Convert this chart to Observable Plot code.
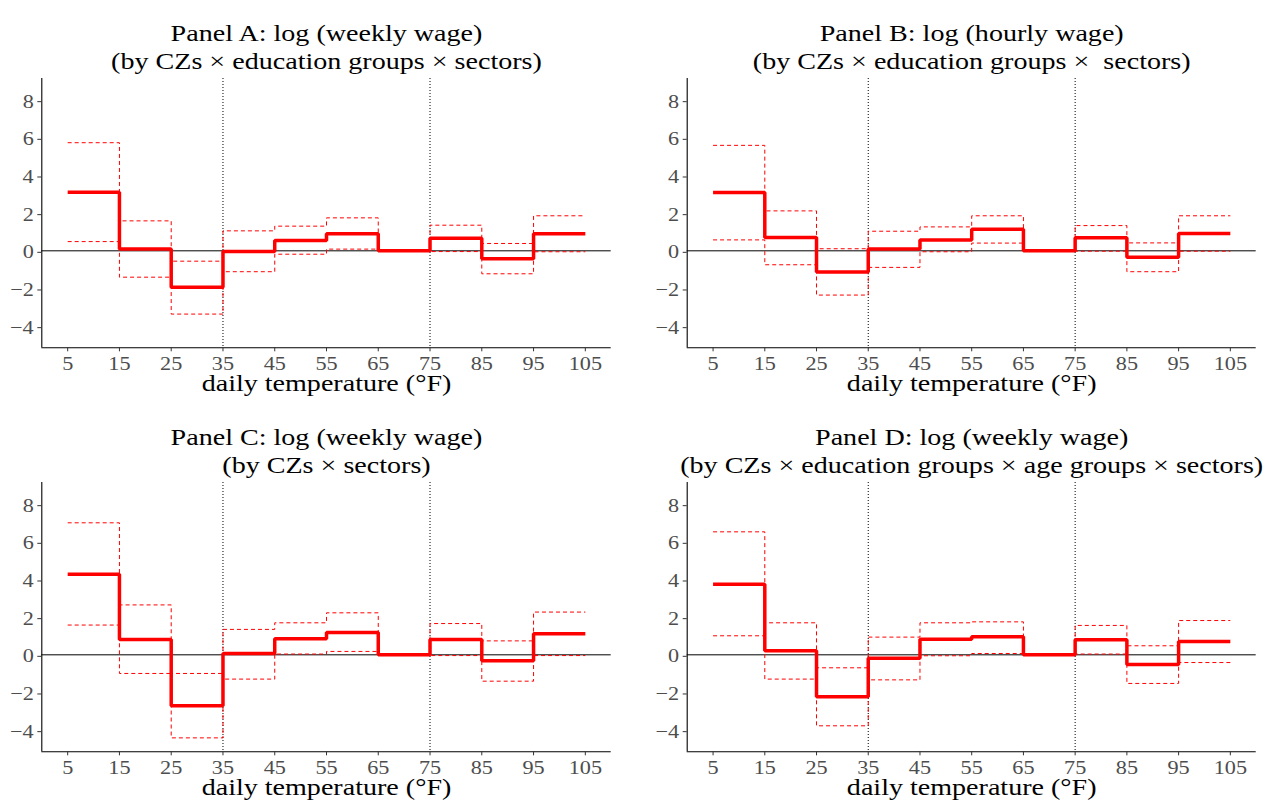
<!DOCTYPE html>
<html>
<head>
<meta charset="utf-8">
<script src="https://cdn.jsdelivr.net/npm/d3@7"></script>
<script src="https://cdn.jsdelivr.net/npm/@observablehq/plot@0.6"></script>
<style>
  html, body { margin: 0; padding: 0; background: #fff; }
  #chart { position: relative; width: 1267px; height: 806px; background: #fff;
           font-family: "Liberation Serif", serif; }
  #chart svg { position: absolute; overflow: visible; font-family: "Liberation Serif", serif; }
  #chart svg text { white-space: pre; font-family: "Liberation Serif", serif; }
</style>
</head>
<body>
<div id="chart"></div>
<script>
// Temperature bin edges (°F) and axis ticks
const temps = [5, 15, 25, 35, 45, 55, 65, 75, 85, 95, 105];
const yTicks = [-4, -2, 0, 2, 4, 6, 8];
const refTemps = [35, 75];
const xLabel = "daily temperature (°F)";

// Panel titles
const titleLine1 = [
  "Panel A: log (weekly wage)",
  "Panel B: log (hourly wage)",
  "Panel C: log (weekly wage)",
  "Panel D: log (weekly wage)"
];
const titleLine2 = [
  "(by CZs × education groups × sectors)",
  "(by CZs × education groups ×  sectors)",
  "(by CZs × sectors)",
  "(by CZs × education groups × age groups × sectors)"
];

// Estimates and 95% bounds for each 10°F bin (65–75 is the omitted bin)
const estA = [3.11, 0.10, -1.94, -0.04, 0.55, 0.90, 0, 0.67, -0.42, 0.90];
const loA  = [0.49, -1.40, -3.36, -1.11, -0.18, 0.09, 0, -0.04, -1.22, -0.05];
const hiA  = [5.74, 1.59, -0.55, 1.06, 1.31, 1.75, 0, 1.36, 0.39, 1.86];

const estB = [3.09, 0.71, -1.13, 0.09, 0.58, 1.15, 0, 0.69, -0.34, 0.92];
const loB  = [0.58, -0.74, -2.35, -0.88, -0.05, 0.41, 0, -0.02, -1.11, -0.02];
const hiB  = [5.60, 2.12, 0.11, 1.04, 1.27, 1.86, 0, 1.34, 0.42, 1.86];

const estC = [4.28, 0.81, -2.71, 0.07, 0.85, 1.19, 0, 0.81, -0.32, 1.12];
const loC  = [1.58, -0.99, -4.41, -1.29, 0.04, 0.18, 0, -0.04, -1.40, -0.04];
const hiC  = [7.01, 2.65, -0.99, 1.35, 1.70, 2.23, 0, 1.66, 0.74, 2.27];

const estD = [3.75, 0.21, -2.23, -0.18, 0.83, 0.96, 0, 0.80, -0.51, 0.71];
const loD  = [1.01, -1.29, -3.77, -1.33, -0.05, 0.07, 0, 0.04, -1.52, -0.41];
const hiD  = [6.53, 1.70, -0.69, 0.94, 1.70, 1.75, 0, 1.56, 0.48, 1.82];

const panels = [
  {est: estA, lo: loA, hi: hiA, left: 0,   top: 0,     width: 633, mL: 41.3, mR: 22.3},
  {est: estB, lo: loB, hi: hiB, left: 633, top: 0,     width: 634, mL: 53.7, mR: 11.3},
  {est: estC, lo: loC, hi: hiC, left: 0,   top: 403.6, width: 633, mL: 41.3, mR: 22.3},
  {est: estD, lo: loD, hi: hiD, left: 633, top: 403.6, width: 634, mL: 53.7, mR: 11.3}
];

// y limits -4.5..8.5 with 5% padding, x limits 5..105 with 5% padding
const yDomain = [-5.15, 9.15];
const xDomain = [0, 110];

// Glyphs in this figure are set slightly wide
const textStretch = 1.17;

// Turn 10 bin values into step points over the bin edges
function stepRows(vals) {
  return temps.map((t, i) => ({x: t, y: vals[Math.min(i, vals.length - 1)]}));
}

// Widen every text element horizontally, keeping its text-anchor point fixed
function stretchText(svg, s) {
  svg.querySelectorAll("text").forEach((t) => {
    let box;
    try { box = t.getBBox(); } catch (e) { return; }
    if (!box || !isFinite(box.x) || !isFinite(box.width)) return;
    const anchor = getComputedStyle(t).textAnchor;
    const ax = anchor === "middle" ? box.x + box.width / 2
             : anchor === "end" ? box.x + box.width
             : box.x;
    if (!isFinite(ax)) return;
    const tr = t.getAttribute("transform") || "";
    t.setAttribute("transform",
      (tr + ` translate(${ax.toFixed(3)},0) scale(${s},1) translate(${(-ax).toFixed(3)},0)`).trim());
  });
}

const chart = document.getElementById("chart");

panels.forEach((p, k) => {
  const svg = Plot.plot({
    width: p.width,
    height: 402,
    marginLeft: p.mL,
    marginRight: p.mR,
    marginTop: 78,
    marginBottom: 54.7,
    style: {fontFamily: "Liberation Serif", background: "transparent", overflow: "visible"},
    x: {domain: xDomain, label: null},
    y: {domain: yDomain, label: null},
    marks: [
      Plot.ruleY([0], {stroke: "black", strokeWidth: 1}),
      Plot.ruleX(refTemps, {stroke: "black", strokeWidth: 1, strokeDasharray: "1,2"}),
      Plot.line(stepRows(p.lo), {x: "x", y: "y", curve: "step-after", stroke: "#ff0000",
        strokeWidth: 1, strokeDasharray: "4,3", strokeLinecap: "butt", strokeLinejoin: "miter"}),
      Plot.line(stepRows(p.hi), {x: "x", y: "y", curve: "step-after", stroke: "#ff0000",
        strokeWidth: 1, strokeDasharray: "4,3", strokeLinecap: "butt", strokeLinejoin: "miter"}),
      Plot.line(stepRows(p.est), {x: "x", y: "y", curve: "step-after", stroke: "#ff0000",
        strokeWidth: 3.5, strokeLinecap: "butt", strokeLinejoin: "miter"}),
      // axis lines
      Plot.ruleX([xDomain[0]], {stroke: "black", strokeWidth: 1.1}),
      Plot.ruleY([yDomain[0]], {stroke: "black", strokeWidth: 1.1}),
      Plot.axisX({ticks: temps, tickSize: 4, tickPadding: 5, fontSize: 19,
        stroke: "#333", fill: "#4d4d4d", label: null}),
      Plot.axisY({ticks: yTicks, tickSize: 4, tickPadding: 4, fontSize: 19, dy: 1.5,
        stroke: "#333", fill: "#4d4d4d", label: null}),
      Plot.text([xLabel], {frameAnchor: "bottom", dy: 42.7, fontSize: 24, fill: "black"}),
      Plot.text([titleLine1[k]], {frameAnchor: "top", dy: -54.7, fontSize: 24, fill: "black"}),
      Plot.text([titleLine2[k]], {frameAnchor: "top", dy: -26.2, fontSize: 24, fill: "black"})
    ]
  });
  svg.style.left = p.left + "px";
  svg.style.top = p.top + "px";
  chart.appendChild(svg);
  stretchText(svg, textStretch);
});
</script>
</body>
</html>
